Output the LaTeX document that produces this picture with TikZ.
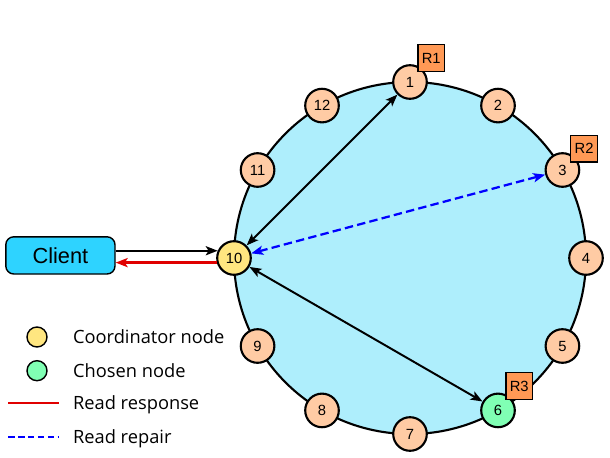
\documentclass[tikz,border=0pt]{standalone}
\usepackage{fontspec}
\setmainfont{Liberation Sans}
\newfontfamily\legendfont{Open Sans}
\usetikzlibrary{arrows.meta,calc}
\definecolor{ringblue}{HTML}{AEEEFC}
\definecolor{clientblue}{HTML}{2ED3FF}
\definecolor{peach}{HTML}{FFCBA4}
\definecolor{coordyellow}{HTML}{FFE680}
\definecolor{chosengreen}{HTML}{80FFB4}
\definecolor{replicaorange}{HTML}{FF9955}
\definecolor{respred}{HTML}{E00000}
\definecolor{repairblue}{HTML}{0000FF}
\begin{document}
\begin{tikzpicture}[
    peer/.style={circle, draw=black, line width=1.5pt, fill=peach, minimum size=0.84cm, inner sep=0pt, font=\fontsize{10.5}{12}\selectfont},
    replica/.style={draw=black, line width=0.8pt, fill=replicaorange, minimum size=0.66cm, inner sep=0pt, font=\fontsize{10.5}{12}\selectfont},
    tip/.style={-{Stealth[length=8.5pt,width=6.5pt,inset=2pt]}},
    link/.style={line width=1.4pt, {Stealth[length=8.5pt,width=6.5pt,inset=2pt]}-{Stealth[length=8.5pt,width=6.5pt,inset=2pt]}},
    legendtext/.style={anchor=base west, inner sep=0pt, font=\legendfont\fontsize{13}{15}\selectfont}]
    \useasboundingbox (0,0) rectangle (15.25,11.425);

    % the ring
    \coordinate (hub) at (10.25,4.975);
    \draw[line width=1.5pt, fill=ringblue] (hub) circle (4.4);
    \foreach \i in {1,...,5,7,8,9,11,12} {
      \node[peer] (n\i) at ($(hub)+({90-30*(\i-1)}:4.4)$) {\i};
    }
    \node[peer, fill=chosengreen] (n6) at ($(hub)+(-60:4.4)$) {6};
    \node[peer, fill=coordyellow] (n10) at ($(hub)+(180:4.4)$) {10};

    % replicas
    \node[replica] (r1) at ($(n1)+(0.53,0.6)$) {R1};
    \node[replica] (r2) at ($(n3)+(0.54,0.53)$) {R2};
    \node[replica] (r3) at ($(n6)+(0.53,0.61)$) {R3};

    \draw[link] (n10) -- (n1);
    \draw[link] (n10) -- (n6);
    \draw[link, repairblue, line width=1.6pt, dash pattern=on 6pt off 3pt] (n10) -- (n3);

    % client
    \node[draw, line width=1pt, rounded corners=0.2cm, fill=clientblue, minimum width=2.73cm, minimum height=0.93cm, font=\fontsize{15.5}{18}\selectfont] (client) at (1.51,5.04) {Client};
    \draw[tip, line width=1.4pt] (client.east |- n10.156) -- (n10.156);
    \draw[tip, respred, line width=1.6pt] (n10.195) -- (client.east |- n10.195);

    % legend
    \draw[line width=1pt, fill=coordyellow] (0.925,3.0) circle (0.25);
    \draw[line width=1pt, fill=chosengreen] (0.925,2.1575) circle (0.25);
    \draw[respred, line width=1.6pt] (0.21,1.3425) -- (1.475,1.3425);
    \draw[repairblue, line width=1.6pt, dash pattern=on 4.5pt off 2.5pt] (0.21,0.5075) -- (1.475,0.5075);
    \node[legendtext] (lcoord) at (1.82,2.8375) {Coordinator node};
    \node[legendtext] (lchosen) at (1.82,1.995) {Chosen node};
    \node[legendtext] (lresp) at (1.82,1.18) {Read response};
    \node[legendtext] (lrepair) at (1.82,0.345) {Read repair};
  \end{tikzpicture}
\end{document}
